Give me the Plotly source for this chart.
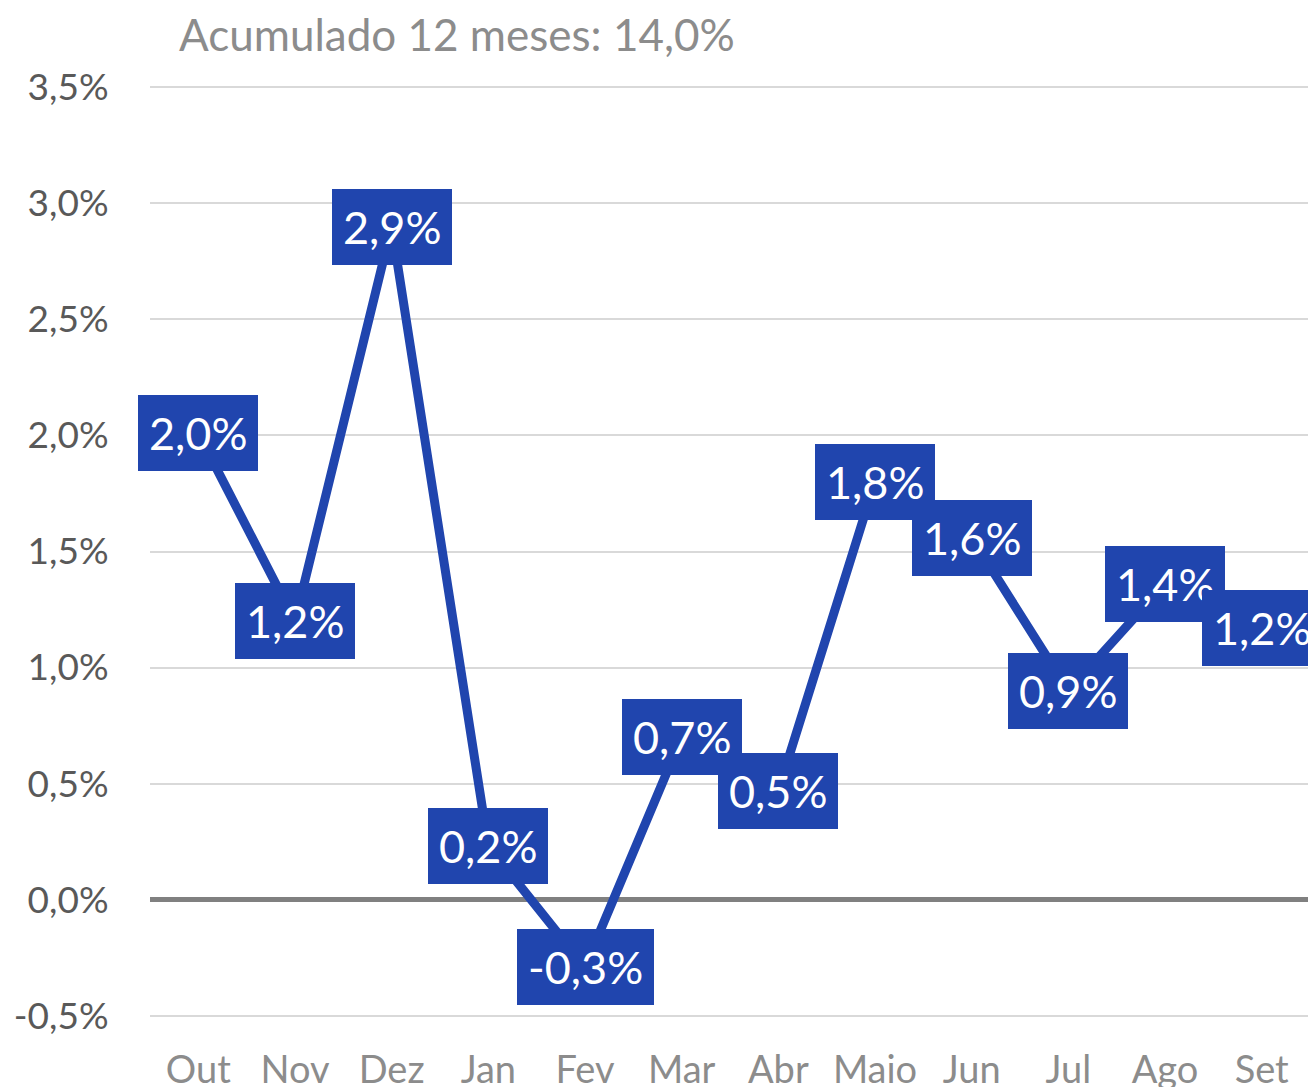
import plotly.graph_objects as go

months = ["Out", "Nov", "Dez", "Jan", "Fev", "Mar", "Abr", "Maio", "Jun", "Jul", "Ago", "Set"]
values = [2.01, 1.20, 2.90, 0.23, -0.29, 0.70, 0.47, 1.80, 1.56, 0.90, 1.36, 1.17]
labels = ["2,0%", "1,2%", "2,9%", "0,2%", "-0,3%", "0,7%", "0,5%", "1,8%", "1,6%", "0,9%", "1,4%", "1,2%"]
tick_vals = [-0.5, 0.0, 0.5, 1.0, 1.5, 2.0, 2.5, 3.0, 3.5]
tick_text = ["-0,5%", "0,0%", "0,5%", "1,0%", "1,5%", "2,0%", "2,5%", "3,0%", "3,5%"]
title_text = "Acumulado 12 meses: 14,0%"

BLUE = "#2045AE"
FONT = "Lato"
W, H = 1308, 1079

fig = go.Figure()
fig.add_trace(go.Scatter(
    x=list(range(len(months))), y=values, mode="lines",
    line=dict(color=BLUE, width=9), hoverinfo="skip", showlegend=False,
))

for i, (v, t) in enumerate(zip(values, labels)):
    fig.add_annotation(
        x=i, y=v, xref="x", yref="y", text=t, showarrow=False,
        font=dict(family=FONT, size=45, color="white"),
        bgcolor=BLUE, bordercolor=BLUE, borderwidth=1, borderpad=10,
        xanchor="center", yanchor="middle",
    )

fig.update_layout(
    width=W, height=H,
    margin=dict(l=142, r=6, t=77, b=69, pad=0),
    paper_bgcolor="white", plot_bgcolor="white",
    title=dict(text=title_text, x=171 / W, xanchor="left", xref="container",
               y=1 - 28 / H, yanchor="middle", yref="container",
               font=dict(family=FONT, size=44, color="#8C8C8C")),
    xaxis=dict(
        range=[-0.5, 11.5], tickmode="array", tickvals=list(range(len(months))), ticktext=months,
        showgrid=False, zeroline=False, showline=False, automargin=False,
        ticks="outside", ticklen=18, tickcolor="rgba(0,0,0,0)",
        tickfont=dict(family=FONT, size=38, color="#8C8C8C"),
    ),
    yaxis=dict(
        range=[-0.51, 3.51], tickmode="array", tickvals=tick_vals, ticktext=tick_text,
        showgrid=True, gridcolor="#D9D9D9", gridwidth=2, automargin=False,
        zeroline=True, zerolinecolor="#808080", zerolinewidth=5,
        showline=False, ticks="outside", ticklen=33, tickcolor="rgba(0,0,0,0)",
        tickfont=dict(family=FONT, size=37, color="#595959"),
    ),
)

fig.write_html("out.html")
